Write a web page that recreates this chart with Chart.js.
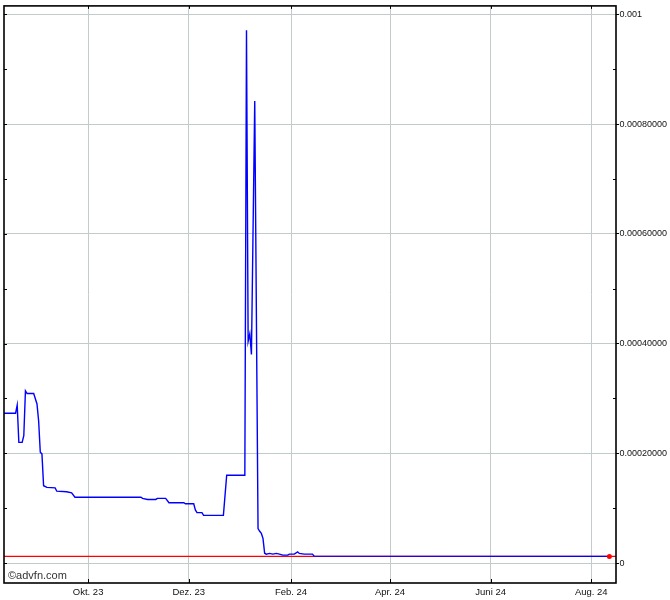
<!DOCTYPE html>
<html><head><meta charset="utf-8">
<script src="https://cdn.jsdelivr.net/npm/chart.js@4/dist/chart.umd.min.js"></script>
<style>html,body{margin:0;padding:0;background:#fff}#wrap{width:670px;height:600px}</style>
</head><body><div id="wrap"><canvas id="c" width="670" height="600"></canvas></div>
<script>
const priceDates = [
 '2023-08-11','2023-08-18','2023-08-19','2023-08-20','2023-08-22','2023-08-23','2023-08-24','2023-08-25',
 '2023-08-29','2023-08-31','2023-09-01','2023-09-02','2023-09-03','2023-09-04','2023-09-06','2023-09-11',
 '2023-09-12','2023-09-18','2023-09-21','2023-09-23','2023-11-02','2023-11-03','2023-11-06','2023-11-11',
 '2023-11-12','2023-11-17','2023-11-19','2023-11-28','2023-11-29','2023-12-04','2023-12-05','2023-12-06',
 '2023-12-09','2023-12-10','2023-12-22','2023-12-24','2024-01-04','2024-01-05','2024-01-06','2024-01-07',
 '2024-01-08','2024-01-10','2024-01-12','2024-01-13','2024-01-14','2024-01-15','2024-01-16','2024-01-17',
 '2024-01-19','2024-01-21','2024-01-23','2024-01-25','2024-01-27','2024-01-30','2024-01-31','2024-02-03',
 '2024-02-05','2024-02-06','2024-02-09','2024-02-14','2024-02-15','2024-08-12'
];
const priceValues = [
 2.73e-4,2.73e-4,2.88e-4,2.20e-4,2.20e-4,2.32e-4,3.14e-4,3.09e-4,
 3.09e-4,2.90e-4,2.59e-4,2.02e-4,1.99e-4,1.41e-4,1.38e-4,1.37e-4,
 1.31e-4,1.30e-4,1.28e-4,1.20e-4,1.20e-4,1.18e-4,1.16e-4,1.16e-4,
 1.18e-4,1.18e-4,1.10e-4,1.10e-4,1.08e-4,1.08e-4,0.97e-4,0.92e-4,
 0.92e-4,0.87e-4,0.87e-4,1.60e-4,1.60e-4,9.71e-4,4.04e-4,4.18e-4,
 3.80e-4,8.42e-4,0.63e-4,0.58e-4,0.54e-4,0.45e-4,0.18e-4,0.163e-4,
 0.176e-4,0.163e-4,0.176e-4,0.163e-4,0.145e-4,0.145e-4,0.163e-4,0.163e-4,
 0.205e-4,0.176e-4,0.163e-4,0.163e-4,0.127e-4,0.122e-4
];
const lastPrice = 0.122e-4;
const xTickDates = ['2023-10-01','2023-12-01','2024-02-01','2024-04-01','2024-06-01','2024-08-01'];
const xTickLabels = ['Okt. 23','Dez. 23','Feb. 24','Apr. 24','Juni 24','Aug. 24'];
const yTickValues = [0, 0.0002, 0.0004, 0.0006, 0.0008, 0.001];
const yTickLabels = ['0','0.00020000','0.00040000','0.00060000','0.00080000','0.001'];
const yMinorValues = [0.0001, 0.0003, 0.0005, 0.0007, 0.0009];
const xRange = ['2023-08-11', '2024-08-16'];
const yRange = [-0.0000363, 0.0010154];

const day = s => Date.parse(s + 'T00:00:00Z') / 86400000;
const FONT = "'Liberation Sans', Arial, sans-serif";
const GRID = '#c2cbcb';

const series = priceDates.map((d, i) => ({x: day(d), y: priceValues[i]}));
const lastPoint = series[series.length - 1];

const framePlugin = {
  id: 'frame',
  afterDraw(chart) {
    const ctx = chart.ctx, a = chart.chartArea;
    const xs = chart.scales.x, ys = chart.scales.y;
    ctx.save();
    ctx.strokeStyle = '#000';
    ctx.lineWidth = 1;
    ctx.beginPath();
    xTickDates.forEach(d => {
      const px = Math.round(xs.getPixelForValue(day(d))) + 0.5;
      ctx.moveTo(px, a.bottom); ctx.lineTo(px, a.bottom - 4);
      ctx.moveTo(px, a.top); ctx.lineTo(px, a.top + 3);
    });
    yTickValues.concat(yMinorValues).forEach(v => {
      const py = Math.round(ys.getPixelForValue(v)) + 0.5;
      ctx.moveTo(a.left, py); ctx.lineTo(a.left + 3, py);
    });
    yMinorValues.forEach(v => {
      const py = Math.round(ys.getPixelForValue(v)) + 0.5;
      ctx.moveTo(a.right, py); ctx.lineTo(a.right - 3, py);
    });
    ctx.stroke();
    ctx.lineWidth = 1.6;
    ctx.strokeRect(a.left, a.top, a.right - a.left, a.bottom - a.top);
    ctx.fillStyle = '#333';
    ctx.font = '11px ' + FONT;
    ctx.textBaseline = 'middle';
    ctx.textAlign = 'left';
    ctx.fillText('\u00A9advfn.com', a.left + 4, a.bottom - 7);
    ctx.restore();
  }
};

new Chart(document.getElementById('c'), {
  type: 'line',
  data: {
    datasets: [
      {data: [lastPoint], showLine: false, pointRadius: 2.5, pointBackgroundColor: '#ff0000',
       pointBorderColor: '#ff0000', pointBorderWidth: 0, order: 0},
      {data: series, borderColor: '#0000ff', borderWidth: 1.4, pointRadius: 0, tension: 0, fill: false, order: 1},
      {data: [{x: day(xRange[0]), y: lastPrice}, {x: day(xRange[1]), y: lastPrice}],
       borderColor: '#ff0000', borderWidth: 1.4, pointRadius: 0, fill: false, order: 2}
    ]
  },
  options: {
    responsive: false, animation: false, devicePixelRatio: 1,
    layout: {padding: {left: 3, top: 3, right: 0, bottom: 0}},
    plugins: {legend: {display: false}, tooltip: {enabled: false}},
    scales: {
      x: {
        type: 'linear', min: day(xRange[0]), max: day(xRange[1]),
        afterBuildTicks: s => { s.ticks = xTickDates.map(d => ({value: day(d)})); },
        afterFit: s => { s.height = 17; },
        ticks: {autoSkip: false, maxRotation: 0, padding: 4, color: '#111',
                font: {family: FONT, size: 9.5},
                callback: (v, i) => xTickLabels[i]},
        grid: {color: GRID, lineWidth: 1, drawTicks: false},
        border: {display: false}
      },
      y: {
        type: 'linear', position: 'right', min: yRange[0], max: yRange[1],
        afterBuildTicks: s => { s.ticks = yTickValues.map(v => ({value: v})); },
        afterFit: s => { s.width = 54; },
        ticks: {padding: 0.5, color: '#111', font: {family: FONT, size: 9},
                callback: (v, i) => yTickLabels[i]},
        grid: {color: GRID, lineWidth: 1, drawTicks: true, tickLength: 3, tickColor: '#000'},
        border: {display: false}
      }
    }
  },
  plugins: [framePlugin]
});
</script>
</body></html>
